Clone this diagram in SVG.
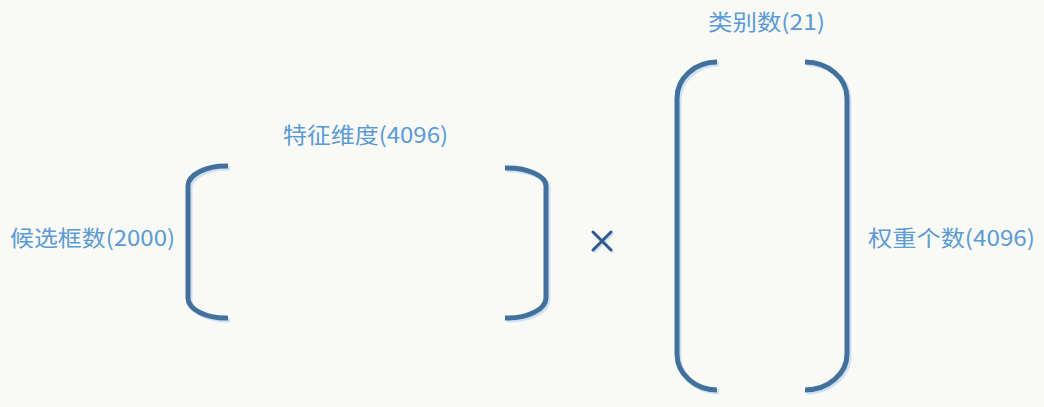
<svg xmlns="http://www.w3.org/2000/svg" width="1044" height="407" viewBox="0 0 1044 407">
<defs>
<style>
.lbl{font-family:"Noto Sans CJK SC","Liberation Sans",sans-serif;font-size:22px;fill:#5b9bd5}
.br{fill:none;stroke:#41719c;stroke-width:5;stroke-linecap:butt}
.sh{fill:none;stroke:#cfe1f3;stroke-width:5;stroke-linecap:butt}
.x{fill:none;stroke:#2e5c8a;stroke-width:3;stroke-linecap:round}
</style>
</defs>
<rect width="1044" height="407" fill="#f9f9f6"/>
<g id="matrix-a">
<path class="sh" d="M230,168 A38,20 0 0 0 190,188 L190,300 A38,20 0 0 0 230,320"/>
<path class="br" d="M228,166 A38,20 0 0 0 188,186 L188,298 A38,20 0 0 0 228,318"/>
<path class="sh" d="M507,170 A39,18 0 0 1 548,188 L548,300 A39,20 0 0 1 507,320"/>
<path class="br" d="M505,168 A39,18 0 0 1 546,186 L546,298 A39,20 0 0 1 505,318"/>
<text class="lbl" x="283" y="143" textLength="165" lengthAdjust="spacingAndGlyphs">特征维度(4096)</text>
<text class="lbl" x="10" y="246" textLength="165" lengthAdjust="spacingAndGlyphs">候选框数(2000)</text>
</g>
<g id="times">
<path d="M593,232 L611,250 M611,232 L593,250" fill="none" stroke="#cfe1f3" stroke-width="3" stroke-linecap="round" transform="translate(1.5,1.5)"/>
<path class="x" d="M593,232 L611,250 M611,232 L593,250"/>
</g>
<g id="matrix-b">
<path class="sh" d="M719,64 A40,36 0 0 0 679,100 L679,356 A40,36 0 0 0 719,392"/>
<path class="br" d="M717,62 A40,36 0 0 0 677,98 L677,354 A40,36 0 0 0 717,390"/>
<path class="sh" d="M807,64 A42,36 0 0 1 849,100 L849,356 A42,36 0 0 1 807,392"/>
<path class="br" d="M805,62 A42,36 0 0 1 847,98 L847,354 A42,36 0 0 1 805,390"/>
<text class="lbl" x="708" y="30" textLength="117" lengthAdjust="spacingAndGlyphs">类别数(21)</text>
<text class="lbl" x="868" y="246" textLength="167" lengthAdjust="spacingAndGlyphs">权重个数(4096)</text>
</g>
<g id="connectors"></g>
</svg>
